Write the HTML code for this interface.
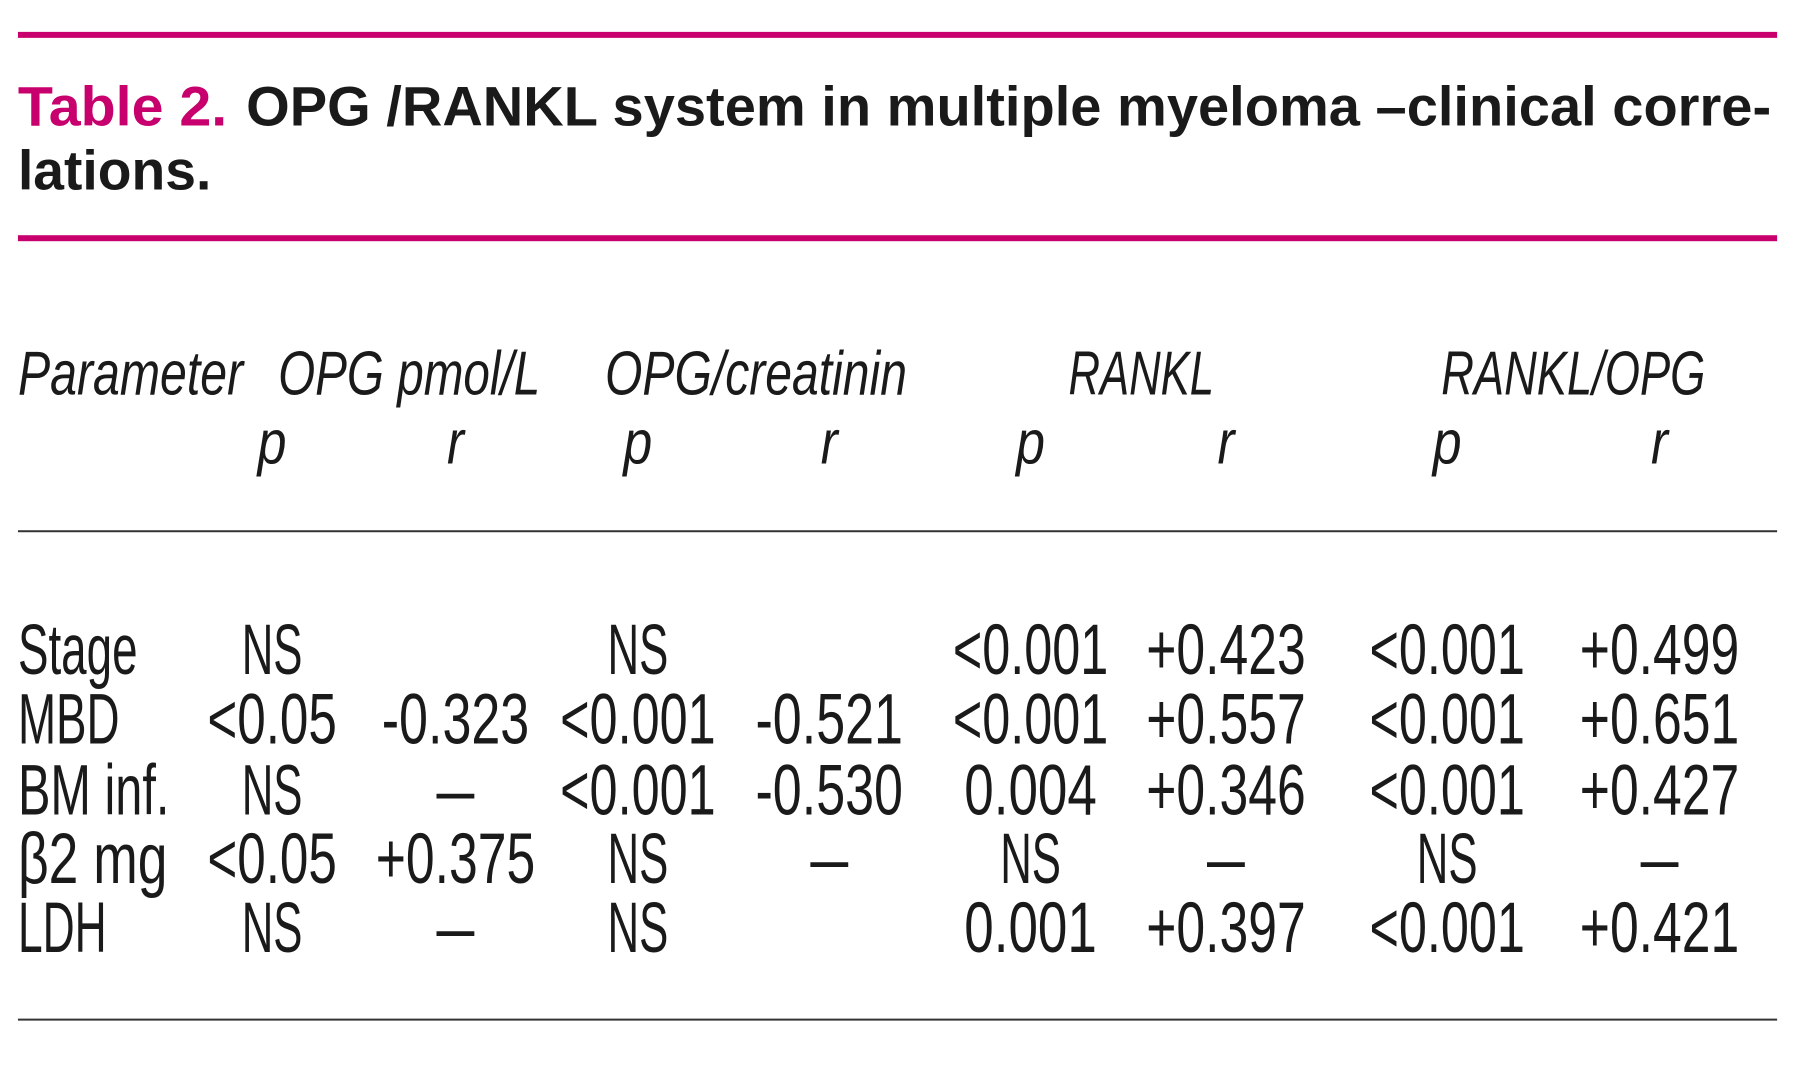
<!DOCTYPE html>
<html><head><meta charset="utf-8"><style>
html,body{margin:0;padding:0;background:#fff;}
svg{display:block;}
text{font-family:"Liberation Sans",sans-serif;fill:#1a1a1a;}
.t{font-weight:bold;font-size:56px;}
.h{font-style:italic;font-size:62px;}
.d{font-size:72px;}
</style></head><body>
<svg width="1800" height="1090" viewBox="0 0 1800 1090" xmlns="http://www.w3.org/2000/svg">
<g transform="translate(0,-2) scale(0.9967)">
<rect x="18" y="34" width="1765" height="6" fill="#c8006e"/>
<text class="t" x="18" y="128" textLength="210" lengthAdjust="spacingAndGlyphs" style="fill:#c8006e">Table 2.</text>
<text class="t" x="247" y="128" textLength="1530" lengthAdjust="spacingAndGlyphs">OPG /RANKL system in multiple myeloma –clinical corre-</text>
<text class="t" x="18" y="192" textLength="194" lengthAdjust="spacingAndGlyphs">lations.</text>
<rect x="18" y="238" width="1765" height="6" fill="#c8006e"/>

<text class="h" x="18" y="398" textLength="226" lengthAdjust="spacingAndGlyphs">Parameter</text>
<text class="h" x="279" y="398" textLength="263" lengthAdjust="spacingAndGlyphs">OPG pmol/L</text>
<text class="h" x="607" y="398" textLength="303" lengthAdjust="spacingAndGlyphs">OPG/creatinin</text>
<text class="h" x="1072" y="398" textLength="146" lengthAdjust="spacingAndGlyphs">RANKL</text>
<text class="h" x="1446" y="398" textLength="265" lengthAdjust="spacingAndGlyphs">RANKL/OPG</text>
<g text-anchor="middle">
<text class="h" x="273" y="467" textLength="29" lengthAdjust="spacingAndGlyphs">p</text><text class="h" x="457" y="467" textLength="17" lengthAdjust="spacingAndGlyphs">r</text>
<text class="h" x="640" y="467" textLength="29" lengthAdjust="spacingAndGlyphs">p</text><text class="h" x="832" y="467" textLength="17" lengthAdjust="spacingAndGlyphs">r</text>
<text class="h" x="1034" y="467" textLength="29" lengthAdjust="spacingAndGlyphs">p</text><text class="h" x="1230" y="467" textLength="17" lengthAdjust="spacingAndGlyphs">r</text>
<text class="h" x="1452" y="467" textLength="29" lengthAdjust="spacingAndGlyphs">p</text><text class="h" x="1665" y="467" textLength="17" lengthAdjust="spacingAndGlyphs">r</text>
</g>
<rect x="18" y="534" width="1765" height="2" fill="#333"/>

<text class="d" x="18" y="678" textLength="120" lengthAdjust="spacingAndGlyphs">Stage</text>
<text class="d" x="18" y="748" textLength="102" lengthAdjust="spacingAndGlyphs">MBD</text>
<text class="d" x="18" y="819" textLength="152" lengthAdjust="spacingAndGlyphs">BM inf.</text>
<text class="d" x="18" y="888" textLength="150" lengthAdjust="spacingAndGlyphs">β2 mg</text>
<text class="d" x="18" y="957" textLength="89" lengthAdjust="spacingAndGlyphs">LDH</text>
<g text-anchor="middle">
<text class="d" x="273" y="678" textLength="61" lengthAdjust="spacingAndGlyphs">NS</text>
<text class="d" x="640" y="678" textLength="61" lengthAdjust="spacingAndGlyphs">NS</text>
<text class="d" x="1034" y="678" textLength="156" lengthAdjust="spacingAndGlyphs">&lt;0.001</text>
<text class="d" x="1230" y="678" textLength="160" lengthAdjust="spacingAndGlyphs">+0.423</text>
<text class="d" x="1452" y="678" textLength="156" lengthAdjust="spacingAndGlyphs">&lt;0.001</text>
<text class="d" x="1665" y="678" textLength="160" lengthAdjust="spacingAndGlyphs">+0.499</text>

<text class="d" x="273" y="748" textLength="130" lengthAdjust="spacingAndGlyphs">&lt;0.05</text>
<text class="d" x="457" y="748" textLength="148" lengthAdjust="spacingAndGlyphs">-0.323</text>
<text class="d" x="640" y="748" textLength="156" lengthAdjust="spacingAndGlyphs">&lt;0.001</text>
<text class="d" x="832" y="748" textLength="148" lengthAdjust="spacingAndGlyphs">-0.521</text>
<text class="d" x="1034" y="748" textLength="156" lengthAdjust="spacingAndGlyphs">&lt;0.001</text>
<text class="d" x="1230" y="748" textLength="160" lengthAdjust="spacingAndGlyphs">+0.557</text>
<text class="d" x="1452" y="748" textLength="156" lengthAdjust="spacingAndGlyphs">&lt;0.001</text>
<text class="d" x="1665" y="748" textLength="160" lengthAdjust="spacingAndGlyphs">+0.651</text>

<text class="d" x="273" y="819" textLength="61" lengthAdjust="spacingAndGlyphs">NS</text>
<text class="d" x="457" y="819" textLength="38" lengthAdjust="spacingAndGlyphs">–</text>
<text class="d" x="640" y="819" textLength="156" lengthAdjust="spacingAndGlyphs">&lt;0.001</text>
<text class="d" x="832" y="819" textLength="148" lengthAdjust="spacingAndGlyphs">-0.530</text>
<text class="d" x="1034" y="819" textLength="133" lengthAdjust="spacingAndGlyphs">0.004</text>
<text class="d" x="1230" y="819" textLength="160" lengthAdjust="spacingAndGlyphs">+0.346</text>
<text class="d" x="1452" y="819" textLength="156" lengthAdjust="spacingAndGlyphs">&lt;0.001</text>
<text class="d" x="1665" y="819" textLength="160" lengthAdjust="spacingAndGlyphs">+0.427</text>

<text class="d" x="273" y="888" textLength="130" lengthAdjust="spacingAndGlyphs">&lt;0.05</text>
<text class="d" x="457" y="888" textLength="160" lengthAdjust="spacingAndGlyphs">+0.375</text>
<text class="d" x="640" y="888" textLength="61" lengthAdjust="spacingAndGlyphs">NS</text>
<text class="d" x="832" y="888" textLength="38" lengthAdjust="spacingAndGlyphs">–</text>
<text class="d" x="1034" y="888" textLength="61" lengthAdjust="spacingAndGlyphs">NS</text>
<text class="d" x="1230" y="888" textLength="38" lengthAdjust="spacingAndGlyphs">–</text>
<text class="d" x="1452" y="888" textLength="61" lengthAdjust="spacingAndGlyphs">NS</text>
<text class="d" x="1665" y="888" textLength="38" lengthAdjust="spacingAndGlyphs">–</text>

<text class="d" x="273" y="957" textLength="61" lengthAdjust="spacingAndGlyphs">NS</text>
<text class="d" x="457" y="957" textLength="38" lengthAdjust="spacingAndGlyphs">–</text>
<text class="d" x="640" y="957" textLength="61" lengthAdjust="spacingAndGlyphs">NS</text>
<text class="d" x="1034" y="957" textLength="133" lengthAdjust="spacingAndGlyphs">0.001</text>
<text class="d" x="1230" y="957" textLength="160" lengthAdjust="spacingAndGlyphs">+0.397</text>
<text class="d" x="1452" y="957" textLength="156" lengthAdjust="spacingAndGlyphs">&lt;0.001</text>
<text class="d" x="1665" y="957" textLength="160" lengthAdjust="spacingAndGlyphs">+0.421</text>
</g>
<rect x="18" y="1024" width="1765" height="2" fill="#333"/>
</g>
</svg>
</body></html>
